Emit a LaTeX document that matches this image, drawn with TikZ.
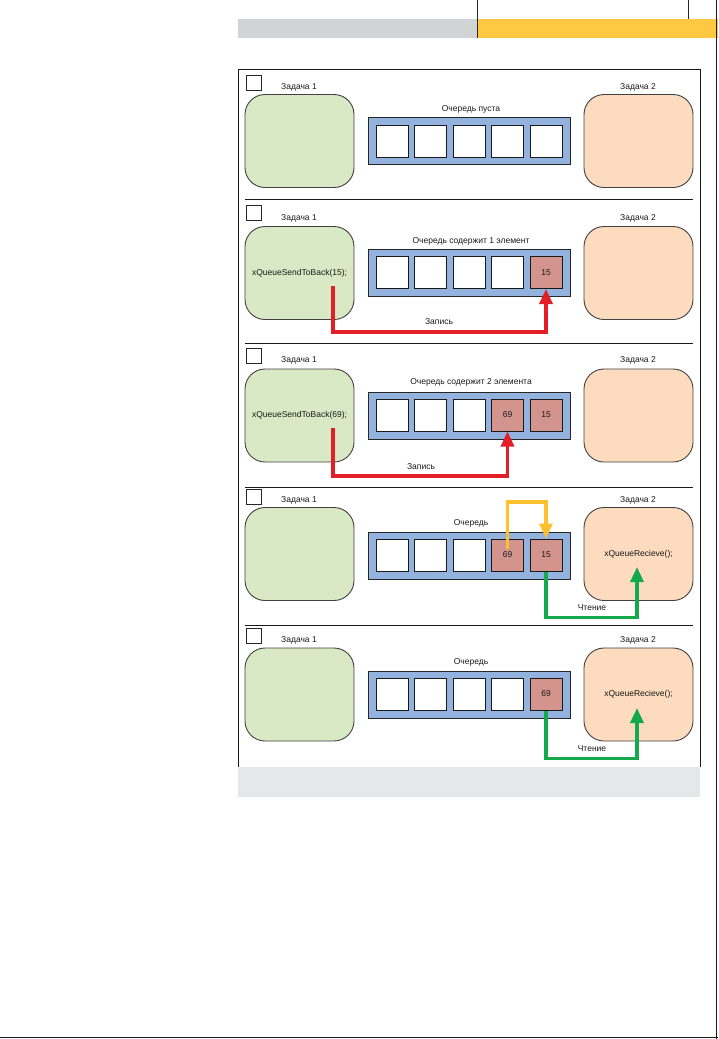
\documentclass[tikz,border=0pt]{standalone}
\usepackage{fontspec}
\setmainfont{Liberation Sans}
\usetikzlibrary{arrows.meta,calc}
\definecolor{boxgreen}{HTML}{D9E9C5}
\definecolor{boxorange}{HTML}{FCDBBE}
\definecolor{qblue}{HTML}{93B3DE}
\definecolor{cpink}{HTML}{D4948E}
\definecolor{ared}{HTML}{E31E26}
\definecolor{ayellow}{HTML}{FDC02F}
\definecolor{agreen}{HTML}{14A94A}
\definecolor{bargray}{HTML}{D1D3D4}
\definecolor{barlight}{HTML}{E6E7E8}
\definecolor{baryellow}{HTML}{FFC843}
\begin{document}
\begin{tikzpicture}[x=1pt,y=-1pt,
  font=\fontsize{8.5}{10}\selectfont,
  every node/.style={text=black!90},
  greenbox/.style={draw=black!75, line width=0.9pt, fill=boxgreen, rounded corners=20pt,
    minimum width=109pt, minimum height=93pt, inner sep=0pt},
  orangebox/.style={greenbox, fill=boxorange},
  queuebox/.style={draw=black!85, line width=0.8pt, fill=qblue, minimum width=202pt,
    minimum height=47pt, inner sep=0pt},
  cellempty/.style={draw=black!90, line width=1pt, fill=white, minimum size=32pt, inner sep=0pt},
  cellfull/.style={cellempty, fill=cpink},
  checkbox/.style={draw=black!85, line width=0.8pt, minimum size=15pt, inner sep=0pt},
  lbl/.style={inner sep=1pt},
  arr/.style={line width=3.3pt, -{Triangle[length=15pt,width=13pt]}},
  redarr/.style={arr, draw=ared},
  yellowarr/.style={arr, draw=ayellow},
  greenarr/.style={arr, draw=agreen}
]
\useasboundingbox (0,0) rectangle (718,1039);
% page decoration
\fill[bargray] (238,19) rectangle (477,38);
\fill[baryellow] (477,19) rectangle (718,38);
\draw[black!85, line width=0.8pt] (477,0) -- (477,38);
\draw[black!85, line width=0.8pt] (688,0) -- (688,19);
\draw[black!90, line width=1pt] (716.5,0) -- (716.5,1039);
\draw[black!90, line width=1.2pt] (0,1037.5) -- (718,1037.5);
% frame
\fill[barlight] (238,767) rectangle (700,797);
\draw[black!90, line width=0.8pt] (238,767) -- (238,69) -- (700,69) -- (700,767);
\foreach \yy in {199,343,487,625} \draw[black!90, line width=0.8pt] (245,\yy) -- (693,\yy);

% ---------- panel 1 ----------
\node[checkbox] (sq1) at (253.5,82.5) {};
\node[lbl] (t1a) at (299,87) {Задача 1};
\node[lbl] (t1b) at (638,87) {Задача 2};
\node[greenbox] (g1) at (299.5,141) {};
\node[orangebox] (o1) at (638.5,141) {};
\node[lbl] (l1) at (471,109) {Очередь пуста};
\node[queuebox] (q1) at (469,140.5) {};
\node[cellempty] (c1-1) at (392,141) {};
\node[cellempty] (c1-2) at (430.5,141) {};
\node[cellempty] (c1-3) at (469,141) {};
\node[cellempty] (c1-4) at (507.5,141) {};
\node[cellempty] (c1-5) at (546,141) {};

% ---------- panel 2 ----------
\node[checkbox] (sq2) at (253.5,212.5) {};
\node[lbl] (t2a) at (299,218) {Задача 1};
\node[lbl] (t2b) at (638,218) {Задача 2};
\node[greenbox] (g2) at (299.5,273) {xQueueSendToBack(15);};
\node[orangebox] (o2) at (638.5,273) {};
\node[lbl] (l2) at (471,241) {Очередь содержит 1 элемент};
\node[queuebox] (q2) at (469,273) {};
\node[cellempty] (c2-1) at (392,272.5) {};
\node[cellempty] (c2-2) at (430.5,272.5) {};
\node[cellempty] (c2-3) at (469,272.5) {};
\node[cellempty] (c2-4) at (507.5,272.5) {};
\node[cellfull] (c2-5) at (546,272.5) {15};
\coordinate (s2) at (333,286);
\draw[redarr] (s2) -- ++(0,46) coordinate (k2) -| (c2-5.south);
\node[lbl] (w2) at (439,322) {Запись};

% ---------- panel 3 ----------
\node[checkbox] (sq3) at (253.5,355.5) {};
\node[lbl] (t3a) at (299,360) {Задача 1};
\node[lbl] (t3b) at (638,360) {Задача 2};
\node[greenbox] (g3) at (299.5,415.5) {xQueueSendToBack(69);};
\node[orangebox] (o3) at (638.5,415.5) {};
\node[lbl] (l3) at (471,382) {Очередь содержит 2 элемента};
\node[queuebox] (q3) at (469,415.5) {};
\node[cellempty] (c3-1) at (392,415) {};
\node[cellempty] (c3-2) at (430.5,415) {};
\node[cellempty] (c3-3) at (469,415) {};
\node[cellfull] (c3-4) at (507.5,415) {69};
\node[cellfull] (c3-5) at (546,415) {15};
\coordinate (s3) at (333,428);
\draw[redarr] (s3) -- ++(0,48) coordinate (k3) -| (c3-4.south);
\node[lbl] (w3) at (421,467) {Запись};

% ---------- panel 4 ----------
\node[checkbox] (sq4) at (253.5,497) {};
\node[lbl] (t4a) at (299,500) {Задача 1};
\node[lbl] (t4b) at (638,500) {Задача 2};
\node[greenbox] (g4) at (299.5,554) {};
\node[orangebox] (o4) at (638.5,554) {xQueueRecieve();};
\node[lbl] (l4) at (471,523) {Очередь};
\node[queuebox] (q4) at (469,555.5) {};
\node[cellempty] (c4-1) at (392,555) {};
\node[cellempty] (c4-2) at (430.5,555) {};
\node[cellempty] (c4-3) at (469,555) {};
\node[cellfull] (c4-4) at (507.5,555) {69};
\node[cellfull] (c4-5) at (546,555) {15};
\coordinate (y4) at (507.5,549);
\draw[yellowarr] (y4) -- ++(0,-47) coordinate (k4a) -| (c4-5.north);
\coordinate (r4) at (637,567);
\draw[greenarr] (c4-5.south) -- ++(0,46) coordinate (k4b) -| (r4);
\node[lbl] (w4) at (592,608) {Чтение};

% ---------- panel 5 ----------
\node[checkbox] (sq5) at (253.5,636) {};
\node[lbl] (t5a) at (299,640) {Задача 1};
\node[lbl] (t5b) at (638,640) {Задача 2};
\node[greenbox] (g5) at (299.5,694.5) {};
\node[orangebox] (o5) at (638.5,694.5) {xQueueRecieve();};
\node[lbl] (l5) at (471,662) {Очередь};
\node[queuebox] (q5) at (469,694.5) {};
\node[cellempty] (c5-1) at (392,694) {};
\node[cellempty] (c5-2) at (430.5,694) {};
\node[cellempty] (c5-3) at (469,694) {};
\node[cellempty] (c5-4) at (507.5,694) {};
\node[cellfull] (c5-5) at (546,694) {69};
\coordinate (r5) at (637,708);
\draw[greenarr] (c5-5.south) -- ++(0,48) coordinate (k5) -| (r5);
\node[lbl] (w5) at (592,749) {Чтение};
\end{tikzpicture}
\end{document}
